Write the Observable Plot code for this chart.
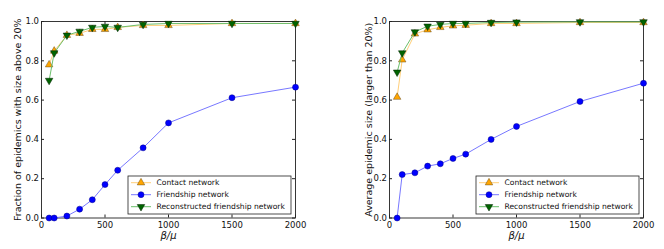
<!DOCTYPE html>
<html><head><meta charset="utf-8">
<script src="https://cdn.jsdelivr.net/npm/d3@7"></script>
<script src="https://cdn.jsdelivr.net/npm/@observablehq/plot@0.6"></script>
<style>
body{margin:0;background:#fff;}
#wrap{display:flex;width:664px;height:249px;}
#wrap svg{font-family:"DejaVu Sans",sans-serif;}
</style></head><body><div id="wrap"></div>
<script>
// beta/mu values
const betaOverMu = [60, 100, 200, 300, 400, 500, 600, 800, 1000, 1500, 2000];

// Left panel: fraction of epidemics with size above 20%
const fracContact       = [0.78, 0.85, 0.93, 0.94, 0.96, 0.96, 0.97, 0.98, 0.98, 0.99, 0.99];
const fracFriendship    = [0.00, 0.00, 0.01, 0.045, 0.093, 0.17, 0.243, 0.357, 0.484, 0.612, 0.666];
const fracReconstructed = [0.70, 0.84, 0.93, 0.95, 0.97, 0.975, 0.97, 0.985, 0.99, 0.99, 0.99];

// Right panel: average epidemic size (larger than 20%)
const sizeContact       = [0.615, 0.805, 0.937, 0.958, 0.970, 0.978, 0.981, 0.990, 0.990, 0.995, 0.995];
const sizeFriendship    = [0.00, 0.221, 0.230, 0.264, 0.276, 0.303, 0.325, 0.400, 0.466, 0.593, 0.686];
const sizeReconstructed = [0.742, 0.840, 0.947, 0.976, 0.985, 0.990, 0.990, 0.995, 0.997, 0.998, 0.998];

const xTicks = [0, 500, 1000, 1500, 2000];
const yTicks = [0, 0.2, 0.4, 0.6, 0.8, 1.0];
const seriesNames = ["Contact network", "Friendship network", "Reconstructed friendship network"];
const xLabel = "β/μ";
const yLabels = ["Fraction of epidemics with size above 20%", "Average epidemic size (larger than 20%)"];

const styles = [
  {line: "#ffcf7a", fill: "#ffa500", stroke: "#6b5020", symbol: "triangle", rotate: 0, r: 2.8},
  {line: "#7878ff", fill: "#0000ff", stroke: "#00008a", symbol: "circle", rotate: 0, r: 3},
  {line: "#6cbf6c", fill: "#006400", stroke: "#002000", symbol: "triangle", rotate: 180, r: 2.8}
];

function panel(series, yLabel, marginLeft, marginRight, yLabelDx) {
  const W = 332, H = 249, mt = 21, mb = 31.5;
  const fw = W - marginLeft - marginRight, fh = H - mt - mb;
  const rows = vals => betaOverMu.map((x, i) => ({x, y: vals[i]}));
  const marks = [
    Plot.frame({stroke: "#222", strokeWidth: 0.9}),
    Plot.tickX(xTicks, {x: d => d, insetTop: fh - 3, stroke: "#222"}),
    Plot.tickX(xTicks, {x: d => d, insetBottom: fh - 3, stroke: "#222"}),
    Plot.tickY(yTicks, {y: d => d, insetRight: fw - 3, stroke: "#222"}),
    Plot.tickY(yTicks, {y: d => d, insetLeft: fw - 3, stroke: "#222"}),
    Plot.axisX({ticks: xTicks, tickSize: 0, tickPadding: 3.5, tickFormat: d => String(d), label: null, fontSize: 8.5, fill: "#111"}),
    Plot.axisY({ticks: yTicks, tickSize: 0, tickPadding: 2.5, tickFormat: ".1f", label: null, fontSize: 8.5, fill: "#111"}),
    Plot.text([yLabel], {text: d => d, frameAnchor: "left", textAnchor: "middle", dx: yLabelDx, rotate: -90, fontSize: 9.5, fill: "#111"}),
    Plot.text([xLabel], {text: d => d, frameAnchor: "bottom", dy: 20.5, fontStyle: "italic", fontSize: 10, fill: "#111"})
  ];
  series.forEach((vals, k) => {
    const s = styles[k];
    marks.push(Plot.line(rows(vals), {x: "x", y: "y", stroke: s.line, strokeWidth: 1}));
    marks.push(Plot.dot(rows(vals), {x: "x", y: "y", symbol: s.symbol, r: s.r, rotate: s.rotate, fill: s.fill, stroke: s.stroke, strokeWidth: 0.5}));
  });
  const chart = Plot.plot({
    width: W, height: H,
    marginLeft, marginRight, marginTop: mt, marginBottom: mb,
    style: {fontFamily: "DejaVu Sans", fontSize: "8.5px", background: "white", color: "#111"},
    x: {domain: [0, 2000], axis: null},
    y: {domain: [0, 1], axis: null},
    marks
  });
  // legend inside the frame, lower right
  const svg = d3.select(chart);
  const bw = 163, bh = 38;
  const bx = W - marginRight - 4 - bw, by = H - mb - 3.5 - bh;
  const g = svg.append("g").attr("transform", `translate(${bx},${by})`).attr("text-anchor", "start");
  g.append("rect").attr("width", bw).attr("height", bh).attr("fill", "white").attr("stroke", "#222").attr("stroke-width", 0.8);
  seriesNames.forEach((name, k) => {
    const s = styles[k];
    const yy = 6.7 + 12 * k;
    g.append("line").attr("x1", 3).attr("x2", 23).attr("y1", yy).attr("y2", yy).attr("stroke", s.line);
    const sym = s.symbol === "circle" ? d3.symbolCircle : d3.symbolTriangle;
    g.append("path").attr("d", d3.symbol(sym, Math.PI * s.r * s.r)())
      .attr("transform", `translate(13,${yy}) rotate(${s.rotate})`)
      .attr("fill", s.fill).attr("stroke", s.stroke).attr("stroke-width", 0.5);
    g.append("text").attr("x", 28.5).attr("y", yy).attr("dy", "0.35em").attr("text-anchor", "start")
      .attr("font-size", 7.6).attr("fill", "#111").text(name);
  });
  return chart;
}

const wrap = document.getElementById("wrap");
wrap.appendChild(panel([fracContact, fracFriendship, fracReconstructed], yLabels[0], 41, 37, -24));
wrap.appendChild(panel([sizeContact, sizeFriendship, sizeReconstructed], yLabels[1], 57, 21, -21));
</script>
</body></html>
